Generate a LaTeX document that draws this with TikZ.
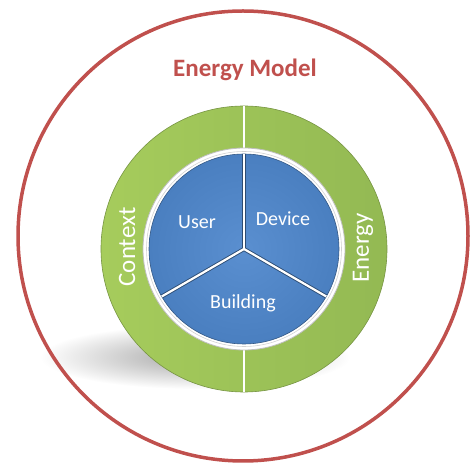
\documentclass[tikz,border=0pt]{standalone}
\usepackage{fontspec}
\setmainfont{Carlito}
\definecolor{modelred}{HTML}{C0504D}
\definecolor{ringgreen}{HTML}{93B953}
\definecolor{ringlight}{HTML}{A6CC5C}
\definecolor{segblue}{HTML}{4A7FC0}
\definecolor{seglight}{HTML}{5A8FD0}

\begin{document}
\begin{tikzpicture}[
    x=1pt, y=1pt,
    titlelabel/.style={
        text=modelred,
        font=\fontsize{25}{30}\selectfont\bfseries,
        inner sep=0pt
    },
    sectorlabel/.style={
        text=white,
        font=\fontsize{20}{24}\selectfont,
        inner sep=0pt
    },
    ringlabel/.style={
        text=white,
        font=\fontsize{25}{30}\selectfont,
        inner sep=0pt,
        rotate=90
    },
    divider/.style={
        white,
        line width=2.2pt
    },
    dividershade/.style={
        segblue!60!black,
        line width=4pt
    },
    ringcut/.style={
        white,
        line width=1.4pt
    }
]
\useasboundingbox (0,0) rectangle (471,465);

\coordinate (model) at (243,229);
\coordinate (hub) at (244,216);

% Soft shadow under the disc
\shade[inner color=gray!70, outer color=white] (195,108) ellipse (155 and 32);

% Outer model boundary
\draw[modelred, line width=3.5pt] (model) circle (225);

% Green ring
\shade[left color=ringlight, right color=ringgreen, draw=ringgreen!80!black, line width=0.6pt]
    (hub) circle (143);
\draw[ringcut] ([shift={(90:100)}]hub) -- ([shift={(90:143)}]hub);
\draw[ringcut] ([shift={(270:100)}]hub) -- ([shift={(270:143)}]hub);

% Inner white rim
\fill[white] (hub) circle (101);
\draw[gray!50, line width=0.8pt] (hub) circle (101);
\draw[gray!35, line width=0.6pt] (hub) circle (97.5);

% Blue sectors
\shade[inner color=seglight, outer color=segblue, draw=segblue!70!black, line width=0.6pt]
    (hub) circle (95);
\foreach \ang in {90,210,330}
    \draw[dividershade] (hub) -- ++(\ang:95);
\foreach \ang in {90,210,330}
    \draw[divider] (hub) -- ++(\ang:95);

% Labels
\node[titlelabel] (title) at (245,395) {Energy Model};
\node[sectorlabel] (user) at (197,243) {User};
\node[sectorlabel] (device) at (283,246) {Device};
\node[sectorlabel] (building) at (243,162) {Building};
\node[ringlabel] (context) at (127,218) {Context};
\node[ringlabel] (energy) at (363,217) {Energy};

\end{tikzpicture}
\end{document}
